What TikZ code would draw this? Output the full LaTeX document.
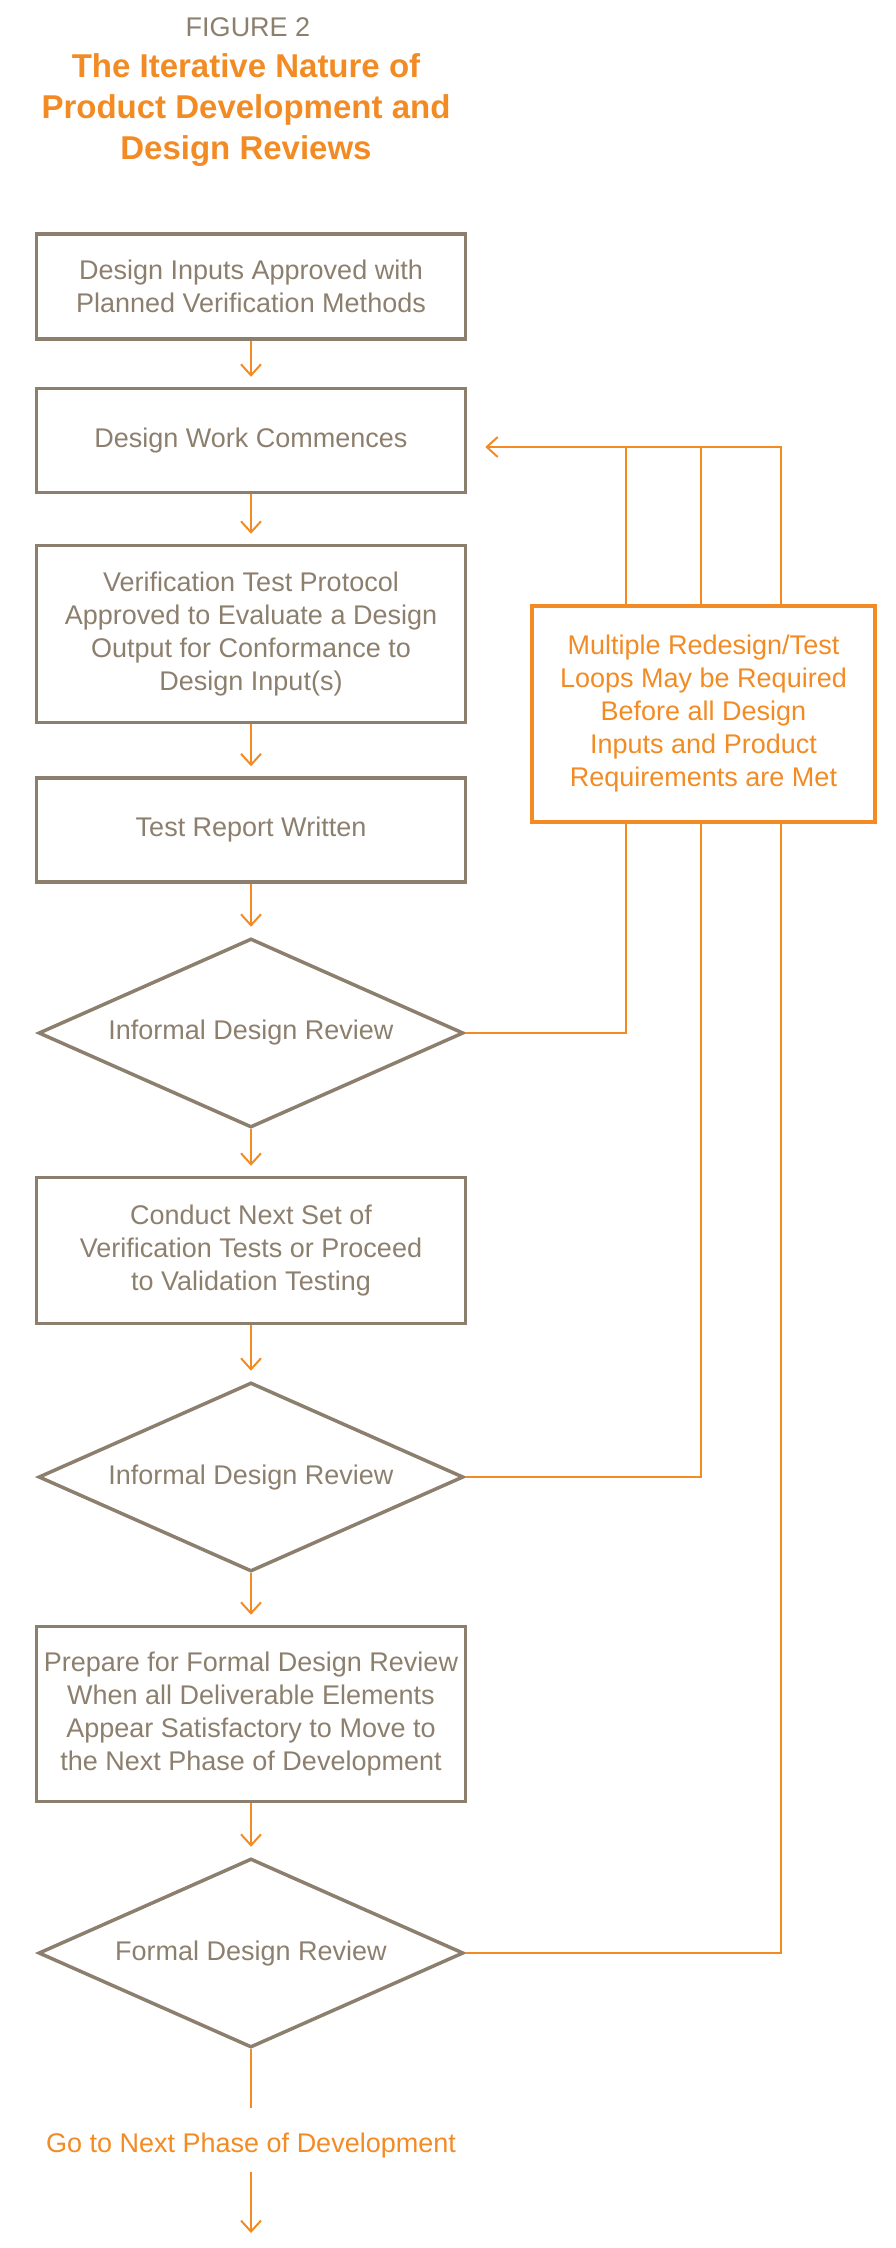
\documentclass[tikz,border=0pt]{standalone}
\usepackage{fontspec}
\setmainfont{Liberation Sans}
\usetikzlibrary{shapes.geometric, arrows.meta}
\definecolor{taupe}{RGB}{141,127,110}
\definecolor{amber}{RGB}{242,139,36}

\begin{document}
\begin{tikzpicture}[x = 1pt, y = -1pt,
  box/.style = {draw = taupe, line width = 3.5pt, text = taupe, minimum width = 429pt,
    inner sep = 0pt, align = center, font = \fontsize{27}{33}\selectfont},
  review/.style = {draw = taupe, line width = 3.5pt, text = taupe, diamond, aspect = 2.2,
    minimum width = 425pt, minimum height = 189pt, inner sep = 0pt, font = \fontsize{27}{33}\selectfont},
  note/.style = {draw = amber, line width = 3.5pt, text = amber, minimum width = 343pt,
    minimum height = 216pt, inner sep = 0pt, align = center, font = \fontsize{27}{33}\selectfont},
  flow/.style = {draw = amber, line width = 2pt, -{Straight Barb[length = 11pt, width = 20pt]}, shorten > = 10pt},
  back/.style = {draw = amber, line width = 2pt}]
\useasboundingbox (0, 0) rectangle (895, 2248);

% title
\node[text = taupe, font = \fontsize{27}{33}\selectfont, anchor = base, inner sep = 0pt] (fig) at (248, 37) {FIGURE 2};
\node[text = amber, font = \bfseries\fontsize{33}{41}\selectfont, align = center, anchor = north, inner sep = 0pt] (title) at (246, 53)
  {The Iterative Nature of\\Product Development and\\Design Reviews};

% main column
\node[box, minimum height = 105pt] (inputs) at (251, 286.5) {Design Inputs Approved with\\Planned Verification Methods};
\node[box, minimum height = 104pt] (work) at (251, 440.5) {Design Work Commences};
\node[box, minimum height = 177pt] (protocol) at (251, 634) {Verification Test Protocol\\Approved to Evaluate a Design\\Output for Conformance to\\Design Input(s)};
\node[box, minimum height = 104pt] (report) at (251, 830) {Test Report Written};
\node[review] (rev1) at (251, 1033) {Informal Design Review};
\node[box, minimum height = 146pt] (next) at (251, 1250.5) {Conduct Next Set of\\Verification Tests or Proceed\\to Validation Testing};
\node[review] (rev2) at (251, 1477) {Informal Design Review};
\node[box, minimum height = 175pt] (prepare) at (251, 1714) {Prepare for Formal Design Review\\When all Deliverable Elements\\Appear Satisfactory to Move to\\the Next Phase of Development};
\node[review] (rev3) at (251, 1953) {Formal Design Review};
\node[text = amber, font = \fontsize{27}{33}\selectfont, inner xsep = 0pt, inner ysep = 14pt] (phase) at (251, 2145) {Go to Next Phase of Development};
\coordinate (out) at (251, 2233);

% loop box
\node[note] (loops) at (703.5, 714) {Multiple Redesign/Test\\Loops May be Required\\Before all Design\\Inputs and Product\\Requirements are Met};
\coordinate (c1) at (626, 447);
\coordinate (c2) at (701, 447);
\coordinate (c3) at (781, 447);

\draw[flow] (inputs) -- (work);
\draw[flow] (work) -- (protocol);
\draw[flow] (protocol) -- (report);
\draw[flow] (report) -- (rev1);
\draw[flow] (rev1) -- (next);
\draw[flow] (next) -- (rev2);
\draw[flow] (rev2) -- (prepare);
\draw[flow] (prepare) -- (rev3);
\draw[back, shorten > = 10pt] (rev3.south) -- (phase.north);
\draw[flow, shorten > = 0pt] (phase.south) -- (out);

% redesign loops
\draw[back] (rev1.east) -| (loops.south -| c1);
\draw[back] (rev2.east) -| (loops.south -| c2);
\draw[back] (rev3.east) -| (loops.south -| c3);
\draw[back] (loops.north -| c1) -- (c1);
\draw[back] (loops.north -| c2) -- (c2);
\draw[flow, shorten > = 18pt] (loops.north -| c3) |- (work.east |- c3);
\end{tikzpicture}
\end{document}
